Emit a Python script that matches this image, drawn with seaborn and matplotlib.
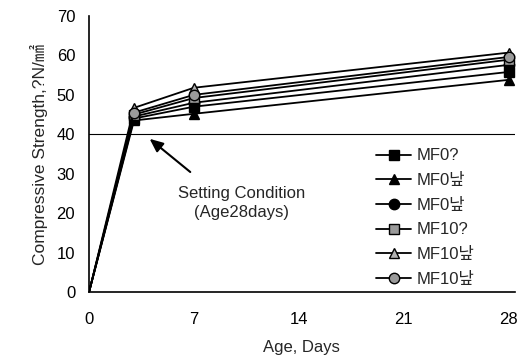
import matplotlib
matplotlib.use("Agg")
import matplotlib.pyplot as plt
import seaborn as sns
import pandas as pd

ages = [0, 3, 7, 28]
labels = ["MF0?", "MF0낲", "MF0낲", "MF10?", "MF10낲", "MF10낲"]
mf0_q = [0, 44.0, 47.0, 55.8]
mf0_t = [0, 43.5, 45.2, 53.8]
mf0_c = [0, 44.5, 48.0, 57.6]
mf10_q = [0, 45.0, 49.2, 58.9]
mf10_t = [0, 46.7, 51.8, 60.7]
mf10_c = [0, 45.5, 50.0, 59.6]
series = [mf0_q, mf0_t, mf0_c, mf10_q, mf10_t, mf10_c]
xticks = [0, 7, 14, 21, 28]
yticks = [0, 10, 20, 30, 40, 50, 60, 70]
setting_value = 40

sns.set_style("white")
plt.rcParams['font.family'] = ['Liberation Sans', 'Noto Sans CJK KR', 'DejaVu Sans']

fig = plt.figure(figsize=(5.28, 3.62), dpi=100)
ax = fig.add_axes([0.1686, 0.193, 0.806, 0.763])

markers = ["s", "^", "o", "s", "^", "o"]
faces = ["black", "black", "black", "#9a9a9a", "#b0b0b0", "#9a9a9a"]
for lab, vals, m, fc in zip(labels, series, markers, faces):
    df = pd.DataFrame({"Age": ages, "S": vals})
    sns.lineplot(data=df, x="Age", y="S", ax=ax, color="black", lw=1.3,
                 marker=m, markersize=7.5, markerfacecolor=fc, markevery=[1, 2, 3],
                 markeredgecolor="black", markeredgewidth=1.0, label=lab)

ax.axhline(setting_value, color="black", lw=0.8)
ax.set_xlim(0, 28.4)
ax.set_ylim(0, 70)
ax.set_xticks(xticks)
ax.set_yticks(yticks)
ax.tick_params(direction="in", length=4, width=1, labelsize=12, colors="black")
ax.tick_params(axis="x", pad=14)
ax.tick_params(axis="y", pad=10)
for s in ["top", "right"]:
    ax.spines[s].set_visible(False)
for s in ["left", "bottom"]:
    ax.spines[s].set_color("black")
    ax.spines[s].set_linewidth(1.2)

ax.set_xlabel("Age, Days", fontsize=12, labelpad=10)
ax.set_ylabel("Compressive Strength,?N/㎟", fontsize=12.5, labelpad=6)

ax.annotate("", xy=(3.9, 39.3), xytext=(6.9, 30),
            arrowprops=dict(arrowstyle="-|>,head_width=0.35,head_length=0.8",
                            color="black", lw=1.5))
ax.text(10.2, 22.5, "Setting Condition\n(Age28days)", ha="center", va="center",
        fontsize=12, linespacing=1.35)

leg = ax.legend(loc="center left", bbox_to_anchor=(0.64, 0.27), frameon=False,
                fontsize=12, handlelength=2.1, labelspacing=0.58, handletextpad=0.3)

fig.savefig("out.png", dpi=100)
